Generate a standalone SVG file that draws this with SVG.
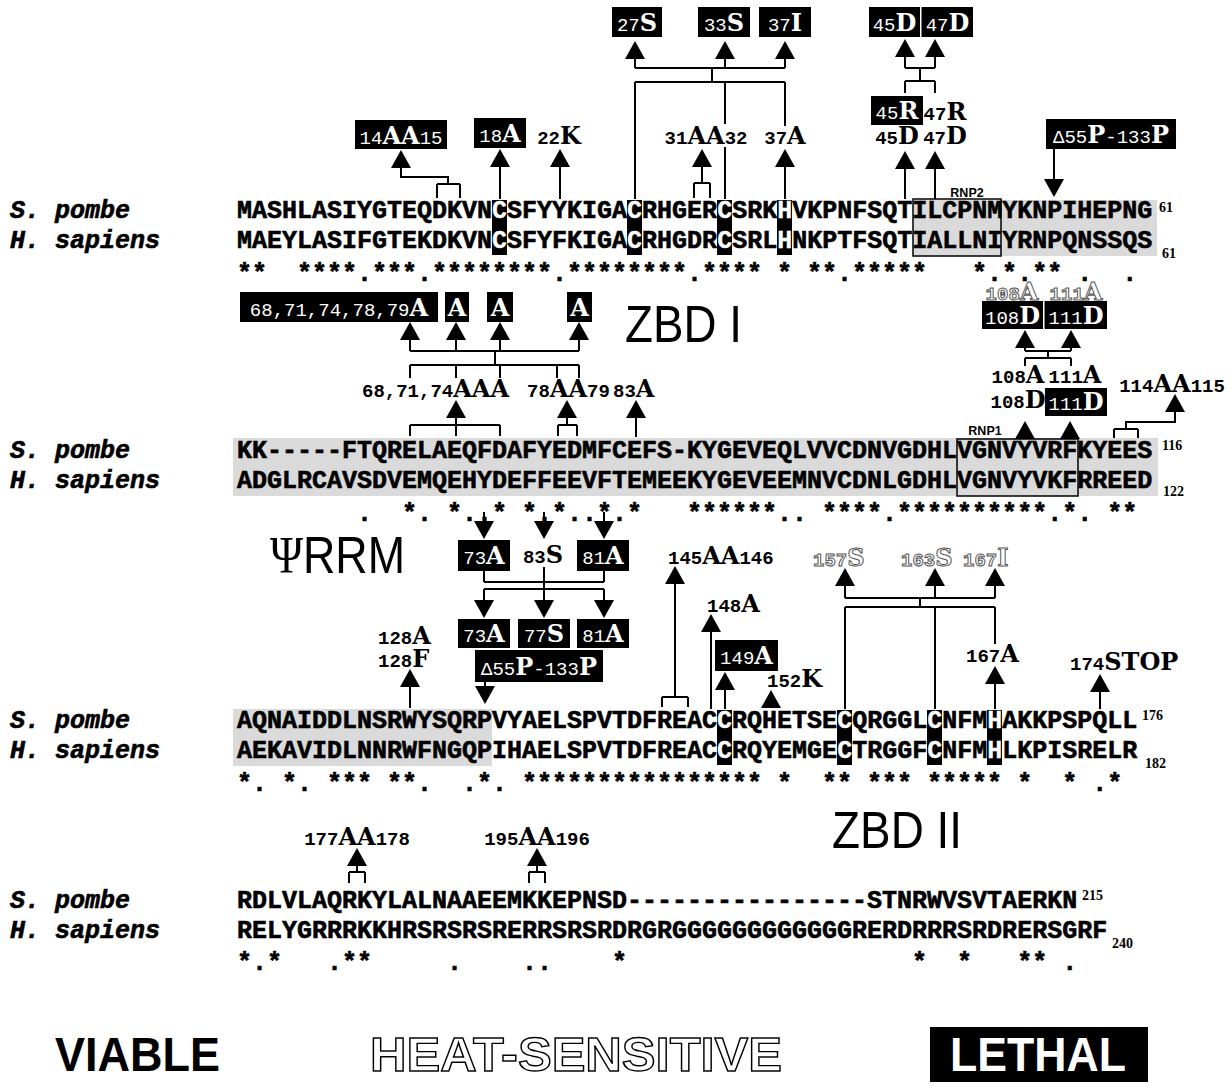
<svg xmlns="http://www.w3.org/2000/svg" width="1232" height="1091" viewBox="0 0 1232 1091">
<defs>
<style>
.sq{font-family:"Liberation Mono",monospace;font-weight:bold;font-size:25px;white-space:pre;stroke:#000;stroke-width:0.6}
.sp{font-family:"Liberation Mono",monospace;font-weight:bold;font-style:italic;font-size:25px;stroke:#000;stroke-width:0.6}
.w{fill:#fff;stroke:#fff;stroke-width:0.3}
.n{font-family:"Liberation Mono",monospace;font-weight:bold;font-size:19px}
.l{font-family:"DejaVu Serif",serif;font-weight:bold;font-size:24px}
.bt{fill:#fff}
.bt .n{font-weight:normal}
.o{fill:#fff;stroke:#555;stroke-width:1}
.ln{fill:none;stroke:#000;stroke-width:2}
.gr{fill:#dadada}
.rnp{fill:none;stroke:#000;stroke-width:1.5}
.rl{font-family:"Liberation Sans",sans-serif;font-weight:bold;font-size:12.5px}
.big{font-family:"Liberation Sans",sans-serif;font-size:52px}
.sup{font-family:"Liberation Serif",serif;font-weight:bold;font-size:14px}
.lg{font-family:"Liberation Sans",sans-serif;font-weight:bold;font-size:48px}
.lgo{fill:#fff;stroke:#000;stroke-width:1.4}
</style>
<path id="up" d="M0,0L10,18L-10,18Z"/>
<path id="dn" d="M0,0L10,-18L-10,-18Z"/>
</defs>
<rect width="1232" height="1091" fill="#fff"/>

<g id="alignment">
  <rect class="gr" x="913" y="200" width="244" height="56"/>
  <rect class="gr" x="233" y="438" width="925" height="58"/>
  <rect class="gr" x="233" y="709" width="259" height="57"/>
  <g fill="#000">
    <rect x="492" y="200" width="15" height="55"/>
    <rect x="627" y="200" width="15" height="55"/>
    <rect x="717" y="200" width="15" height="55"/>
    <rect x="777" y="200" width="15" height="55"/>
    <rect x="717" y="710" width="15" height="55"/>
    <rect x="837" y="710" width="15" height="55"/>
    <rect x="927" y="710" width="15" height="55"/>
    <rect x="987" y="710" width="15" height="55"/>
  </g>
  <rect class="rnp" x="913" y="199" width="88" height="57"/>
  <rect class="rnp" x="957" y="439" width="121" height="57"/>
  <text class="rl" x="967" y="197" text-anchor="middle">RNP2</text>
  <text class="rl" x="985" y="435" text-anchor="middle">RNP1</text>

  <text class="sp" x="10" y="218">S. pombe</text>
  <text class="sp" x="10" y="248">H. sapiens</text>
  <text class="sp" x="10" y="458">S. pombe</text>
  <text class="sp" x="10" y="488">H. sapiens</text>
  <text class="sp" x="10" y="728">S. pombe</text>
  <text class="sp" x="10" y="758">H. sapiens</text>
  <text class="sp" x="10" y="908">S. pombe</text>
  <text class="sp" x="10" y="938">H. sapiens</text>

  <text class="sq" x="237" y="218">MASHLASIYGTEQDKVN<tspan class="w">C</tspan>SFYYKIGA<tspan class="w">C</tspan>RHGER<tspan class="w">C</tspan>SRK<tspan class="w">H</tspan>VKPNFSQTILCPNMYKNPIHEPNG</text>
  <text class="sq" x="237" y="248">MAEYLASIFGTEKDKVN<tspan class="w">C</tspan>SFYFKIGA<tspan class="w">C</tspan>RHGDR<tspan class="w">C</tspan>SRL<tspan class="w">H</tspan>NKPTFSQTIALLNIYRNPQNSSQS</text>
  <text class="sq" x="237" y="281" xml:space="preserve">**  ****.***.********.********.**** * **.*****   *.*.** .  . </text>
  <text class="sup" x="1159" y="212">61</text>
  <text class="sup" x="1162" y="258">61</text>

  <text class="sq" x="237" y="458">KK-----FTQRELAEQFDAFYEDMFCEFS-KYGEVEQLVVCDNVGDHLVGNVYVRFKYEES</text>
  <text class="sq" x="237" y="488">ADGLRCAVSDVEMQEHYDEFFEEVFTEMEEKYGEVEEMNVCDNLGDHLVGNVYVKFRREED</text>
  <text class="sq" x="237" y="521" xml:space="preserve">        .  *. *..* *.*..*.*   ******.. ****.**********.*. ** </text>
  <text class="sup" x="1162" y="450">116</text>
  <text class="sup" x="1163" y="496">122</text>

  <text class="sq" x="237" y="728">AQNAIDDLNSRWYSQRPVYAELSPVTDFREAC<tspan class="w">C</tspan>RQHETSE<tspan class="w">C</tspan>QRGGL<tspan class="w">C</tspan>NFM<tspan class="w">H</tspan>AKKPSPQLL</text>
  <text class="sq" x="237" y="758">AEKAVIDLNNRWFNGQPIHAELSPVTDFREAC<tspan class="w">C</tspan>RQYEMGE<tspan class="w">C</tspan>TRGGF<tspan class="w">C</tspan>NFM<tspan class="w">H</tspan>LKPISRELR</text>
  <text class="sq" x="237" y="791" xml:space="preserve">*. *. *** **.  .*. **************** *  ** *** ***** *  * .* </text>
  <text class="sup" x="1142" y="720">176</text>
  <text class="sup" x="1145" y="768">182</text>

  <text class="sq" x="237" y="908">RDLVLAQRKYLALNAAEEMKKEPNSD----------------STNRWVSVTAERKN</text>
  <text class="sq" x="237" y="938">RELYGRRRKKHRSRSRSRERRSRSRDRGRGGGGGGGGGGGGRERDRRRSRDRERSGRF</text>
  <text class="sq" x="237" y="970" xml:space="preserve">*.*   .**     .    ..    *                   *  *   ** .</text>
  <text class="sup" x="1082" y="900">215</text>
  <text class="sup" x="1112" y="948">240</text>
</g>

<g id="connectors">
  <path class="ln" d="M635,59V68M725,59V68M785,59V68M635,68H785M712,68V82M635,82H785M635,82V199M725,82V124M725,147V199M785,82V126
    M905,57V68M935,57V68M905,68H935M920,68V81M905,81H935M905,81V93M935,81V93
    M401,168V177H448V184M437,184H460M437,184V198M460,184V198
    M500,167V199M560,167V199
    M702,167V183M694,183H710M694,183V198M710,183V198
    M785,167V199M905,169V199M935,169V199
    M1054,149V180"/>
  <use href="#up" x="635" y="41"/><use href="#up" x="725" y="41"/><use href="#up" x="785" y="41"/>
  <use href="#up" x="905" y="39"/><use href="#up" x="935" y="39"/>
  <use href="#up" x="401" y="150"/><use href="#up" x="500" y="149"/><use href="#up" x="560" y="149"/>
  <use href="#up" x="702" y="149"/><use href="#up" x="785" y="149"/>
  <use href="#up" x="905" y="151"/><use href="#up" x="935" y="151"/>
  <use href="#dn" x="1054" y="197"/>

  <path class="ln" d="M410,340V351M456,340V351M500,340V351M579,340V351M410,351H579M495,351V365M410,365H579M410,365V378M456,365V378M500,365V378M557,365V378M579,365V378
    M456,418V436M410,425H500M410,425V436M500,425V436
    M567,418V425M558,425H577M558,425V436M577,425V436
    M636,418V437
    M1025,348V351M1071,348V351M1025,351H1071M1048,351V358M1025,358H1071M1025,358V366M1071,358V366
    M1175,412V422H1126V429M1114,429H1138M1114,429V438M1138,429V438"/>
  <use href="#up" x="410" y="322"/><use href="#up" x="456" y="322"/><use href="#up" x="500" y="322"/><use href="#up" x="579" y="322"/>
  <use href="#up" x="456" y="400"/><use href="#up" x="567" y="400"/><use href="#up" x="636" y="400"/>
  <use href="#up" x="1025" y="330"/><use href="#up" x="1071" y="330"/>
  <use href="#up" x="1025" y="421"/><use href="#up" x="1070" y="421"/>
  <use href="#up" x="1175" y="394"/>

  <path class="ln" d="M484,512V522M544,512V522M604,512V522
    M484,571V582M604,571V582M484,582H604M544,567V601M484,589H604M484,589V601M604,589V601
    M485,682V687
    M410,687V708
    M675,584V697M662,697H688M662,697V707M688,697V707
    M711,632V709M725,690V709
    M845,586V598M935,586V598M995,586V598M845,598H995M920,598V607M845,607H995M845,607V709M935,607V709M995,607V644
    M995,684V709M1100,692V709
    M357,866V872M349,872H365M349,872V883M365,872V883
    M537,866V872M529,872H545M529,872V883M545,872V883"/>
  <use href="#dn" x="484" y="539"/><use href="#dn" x="544" y="539"/><use href="#dn" x="604" y="539"/>
  <use href="#dn" x="484" y="618"/><use href="#dn" x="544" y="618"/><use href="#dn" x="604" y="618"/>
  <use href="#dn" x="485" y="704"/>
  <use href="#up" x="410" y="669"/><use href="#up" x="675" y="566"/><use href="#up" x="711" y="614"/>
  <use href="#up" x="725" y="672"/><use href="#up" x="771" y="690"/>
  <use href="#up" x="845" y="568"/><use href="#up" x="935" y="568"/><use href="#up" x="995" y="568"/>
  <use href="#up" x="995" y="666"/><use href="#up" x="1100" y="674"/>
  <use href="#up" x="357" y="848"/><use href="#up" x="537" y="848"/>
</g>

<g id="n27S"><rect x="612" y="7" width="50" height="30"/><text class="bt" x="637" y="31" text-anchor="middle"><tspan class="n">27</tspan><tspan class="l">S</tspan></text></g>
<g id="n33S"><rect x="698" y="7" width="52" height="30"/><text class="bt" x="724" y="31" text-anchor="middle"><tspan class="n">33</tspan><tspan class="l">S</tspan></text></g>
<g id="n37I"><rect x="759" y="7" width="52" height="30"/><text class="bt" x="785" y="31" text-anchor="middle"><tspan class="n">37</tspan><tspan class="l">I</tspan></text></g>
<g id="n45D47D_top"><rect x="869" y="7" width="51" height="30"/><rect x="921.5" y="7" width="51.5" height="30"/>
  <text class="bt" x="894.5" y="31" text-anchor="middle"><tspan class="n">45</tspan><tspan class="l">D</tspan></text>
  <text class="bt" x="947.5" y="31" text-anchor="middle"><tspan class="n">47</tspan><tspan class="l">D</tspan></text></g>
<g id="n45R47R"><rect x="871" y="96" width="52" height="29"/>
  <text class="bt" x="897" y="119" text-anchor="middle"><tspan class="n">45</tspan><tspan class="l">R</tspan></text>
  <text x="945" y="120" text-anchor="middle"><tspan class="n">47</tspan><tspan class="l">R</tspan></text></g>
<g id="n45D47D"><text x="897" y="144" text-anchor="middle"><tspan class="n">45</tspan><tspan class="l">D</tspan></text>
  <text x="945" y="144" text-anchor="middle"><tspan class="n">47</tspan><tspan class="l">D</tspan></text></g>
<g id="n14AA15"><rect x="355" y="120" width="92" height="29"/><text class="bt" x="401" y="144" text-anchor="middle"><tspan class="n">14</tspan><tspan class="l">AA</tspan><tspan class="n">15</tspan></text></g>
<g id="n18A"><rect x="474" y="118" width="52" height="30"/><text class="bt" x="500" y="142" text-anchor="middle"><tspan class="n">18</tspan><tspan class="l">A</tspan></text></g>
<g id="n22K"><text x="559" y="144" text-anchor="middle"><tspan class="n">22</tspan><tspan class="l">K</tspan></text></g>
<g id="n31AA32"><text x="706" y="144" text-anchor="middle"><tspan class="n">31</tspan><tspan class="l">AA</tspan><tspan class="n">32</tspan></text></g>
<g id="n37A"><text x="785" y="144" text-anchor="middle"><tspan class="n">37</tspan><tspan class="l">A</tspan></text></g>
<g id="nD55a"><rect x="1046" y="119" width="130" height="30"/><text class="bt" x="1111" y="143" text-anchor="middle"><tspan class="n">Δ55</tspan><tspan class="l">P</tspan><tspan class="n">-133</tspan><tspan class="l">P</tspan></text></g>

<g id="n68A"><rect x="240" y="292" width="198" height="30"/><text class="bt" x="339" y="316" text-anchor="middle"><tspan class="n">68,71,74,78,79</tspan><tspan class="l">A</tspan></text>
  <rect x="445" y="292" width="24" height="30"/><text class="bt l" x="457" y="316" text-anchor="middle">A</text>
  <rect x="487" y="292" width="26" height="30"/><text class="bt l" x="500" y="316" text-anchor="middle">A</text>
  <rect x="567" y="292" width="25" height="30"/><text class="bt l" x="579.5" y="316" text-anchor="middle">A</text></g>
<g id="n68AAA"><text x="362" y="397"><tspan class="n">68,71,74</tspan><tspan class="l">AAA</tspan></text></g>
<g id="n78AA79"><text x="527" y="397"><tspan class="n">78</tspan><tspan class="l">AA</tspan><tspan class="n">79</tspan></text></g>
<g id="n83A"><text x="613" y="397"><tspan class="n">83</tspan><tspan class="l">A</tspan></text></g>
<g id="zbd1"><text class="big" x="625" y="342" textLength="117" lengthAdjust="spacingAndGlyphs">ZBD I</text></g>
<g id="n108D111D_top">
  <text class="o" x="1012" y="300" text-anchor="middle"><tspan class="n">108</tspan><tspan class="l">A</tspan></text>
  <text class="o" x="1076" y="300" text-anchor="middle"><tspan class="n">111</tspan><tspan class="l">A</tspan></text>
  <rect x="982" y="301" width="61" height="28"/><rect x="1044.5" y="301" width="62.5" height="28"/>
  <text class="bt" x="1012.5" y="324" text-anchor="middle"><tspan class="n">108</tspan><tspan class="l">D</tspan></text>
  <text class="bt" x="1076" y="324" text-anchor="middle"><tspan class="n">111</tspan><tspan class="l">D</tspan></text></g>
<g id="n108A111A"><text x="1018" y="383" text-anchor="middle"><tspan class="n">108</tspan><tspan class="l">A</tspan></text>
  <text x="1075" y="383" text-anchor="middle"><tspan class="n">111</tspan><tspan class="l">A</tspan></text></g>
<g id="n108D111D"><text x="1018" y="408" text-anchor="middle"><tspan class="n">108</tspan><tspan class="l">D</tspan></text>
  <rect x="1045" y="388" width="62" height="28"/><text class="bt" x="1076" y="410" text-anchor="middle"><tspan class="n">111</tspan><tspan class="l">D</tspan></text></g>
<g id="n114AA115"><text x="1172" y="392" text-anchor="middle"><tspan class="n">114</tspan><tspan class="l">AA</tspan><tspan class="n">115</tspan></text></g>

<g id="psirrm"><text class="big" x="270" y="573" textLength="135" lengthAdjust="spacingAndGlyphs"><tspan font-family="Liberation Serif, serif">Ψ</tspan>RRM</text></g>
<g id="n73A83S81A"><rect x="458" y="540" width="52" height="31"/><text class="bt" x="484" y="564" text-anchor="middle"><tspan class="n">73</tspan><tspan class="l">A</tspan></text>
  <text x="543" y="563" text-anchor="middle"><tspan class="n">83</tspan><tspan class="l">S</tspan></text>
  <rect x="577" y="540" width="52" height="31"/><text class="bt" x="603" y="564" text-anchor="middle"><tspan class="n">81</tspan><tspan class="l">A</tspan></text></g>
<g id="n73A77S81A"><rect x="458" y="619" width="52" height="29"/><text class="bt" x="484" y="642" text-anchor="middle"><tspan class="n">73</tspan><tspan class="l">A</tspan></text>
  <rect x="518" y="619" width="52" height="29"/><text class="bt" x="544" y="642" text-anchor="middle"><tspan class="n">77</tspan><tspan class="l">S</tspan></text>
  <rect x="577" y="619" width="52" height="29"/><text class="bt" x="603" y="642" text-anchor="middle"><tspan class="n">81</tspan><tspan class="l">A</tspan></text></g>
<g id="nD55b"><rect x="475" y="650" width="128" height="32"/><text class="bt" x="539" y="675" text-anchor="middle"><tspan class="n">Δ55</tspan><tspan class="l">P</tspan><tspan class="n">-133</tspan><tspan class="l">P</tspan></text></g>
<g id="n128"><text x="378" y="644"><tspan class="n">128</tspan><tspan class="l">A</tspan></text><text x="378" y="667"><tspan class="n">128</tspan><tspan class="l">F</tspan></text></g>
<g id="n145AA146"><text x="668" y="564"><tspan class="n">145</tspan><tspan class="l">AA</tspan><tspan class="n">146</tspan></text></g>
<g id="n148A"><text x="707" y="612"><tspan class="n">148</tspan><tspan class="l">A</tspan></text></g>
<g id="n149A"><rect x="715" y="640" width="63" height="31"/><text class="bt" x="746.5" y="664" text-anchor="middle"><tspan class="n">149</tspan><tspan class="l">A</tspan></text></g>
<g id="n152K"><text x="767" y="687"><tspan class="n">152</tspan><tspan class="l">K</tspan></text></g>
<g id="n157S"><text class="o" x="813" y="566"><tspan class="n">157</tspan><tspan class="l">S</tspan></text></g>
<g id="n163S"><text class="o" x="901" y="566"><tspan class="n">163</tspan><tspan class="l">S</tspan></text></g>
<g id="n167I"><text class="o" x="963" y="566"><tspan class="n">167</tspan><tspan class="l">I</tspan></text></g>
<g id="n167A"><text x="966" y="662"><tspan class="n">167</tspan><tspan class="l">A</tspan></text></g>
<g id="n174STOP"><text x="1070" y="670"><tspan class="n">174</tspan><tspan class="l">STOP</tspan></text></g>

<g id="n177AA178"><text x="357" y="845" text-anchor="middle"><tspan class="n">177</tspan><tspan class="l">AA</tspan><tspan class="n">178</tspan></text></g>
<g id="n195AA196"><text x="537" y="845" text-anchor="middle"><tspan class="n">195</tspan><tspan class="l">AA</tspan><tspan class="n">196</tspan></text></g>
<g id="zbd2"><text class="big" x="832" y="848" textLength="130" lengthAdjust="spacingAndGlyphs">ZBD II</text></g>

<g id="legend">
  <text class="lg" x="55" y="1071" textLength="165" lengthAdjust="spacingAndGlyphs">VIABLE</text>
  <text class="lg lgo" x="370" y="1071" textLength="412" lengthAdjust="spacingAndGlyphs">HEAT-SENSITIVE</text>
  <rect x="930" y="1027" width="218" height="55"/>
  <text class="lg" x="950" y="1071" fill="#fff" textLength="176" lengthAdjust="spacingAndGlyphs">LETHAL</text>
</g>
</svg>
